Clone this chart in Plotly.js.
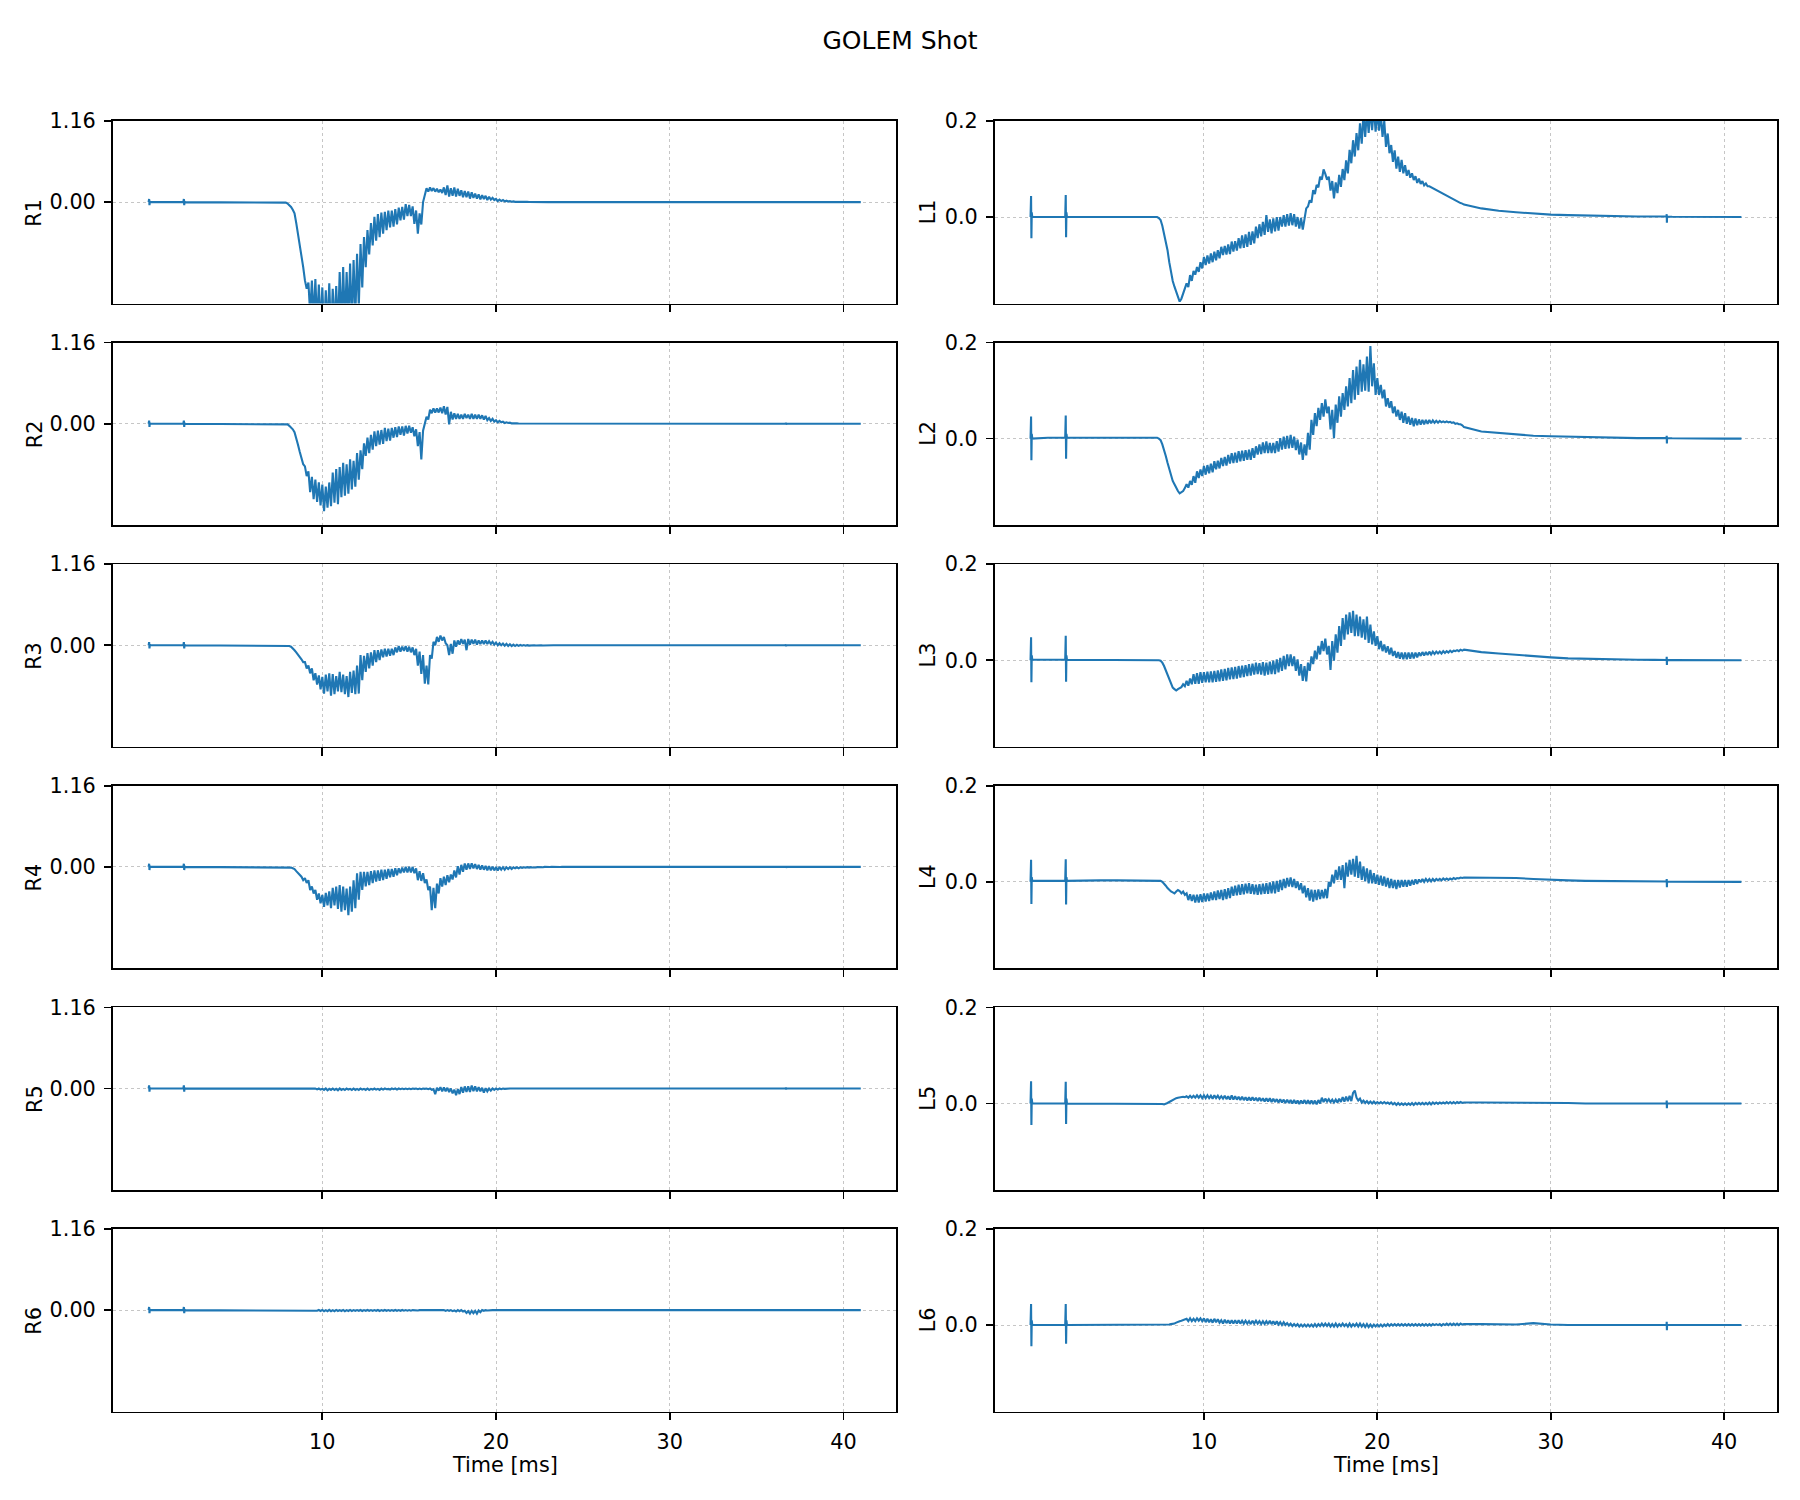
<!DOCTYPE html>
<html>
<head>
<meta charset="utf-8">
<script src="https://cdn.plot.ly/plotly-3.0.1.min.js"></script>
<style>html,body{margin:0;padding:0;background:#fff;}</style>
</head>
<body>
<div id="chart" style="width:1800px;height:1500px;"></div>
<script>
// ---------------- DATA ----------------
// time samples [ms]
const tPre = [0, 0.03, 0.05, 0.07, 0.1, 1, 2, 2.03, 2.05, 2.07, 2.1, 3, 4, 5, 6];
const tFine = [
7.0,7.1,7.2,7.3,7.4,7.5,7.6,7.7,7.8,7.9,
8.0,8.1,8.2,8.3,8.4,8.5,8.6,8.7,8.8,8.9,
9.0,9.1,9.2,9.3,9.4,9.5,9.6,9.7,9.8,9.9,
10.0,10.1,10.2,10.3,10.4,10.5,10.6,10.7,10.8,10.9,
11.0,11.1,11.2,11.3,11.4,11.5,11.6,11.7,11.8,11.9,
12.0,12.1,12.2,12.3,12.4,12.5,12.6,12.7,12.8,12.9,
13.0,13.1,13.2,13.3,13.4,13.5,13.6,13.7,13.8,13.9,
14.0,14.1,14.2,14.3,14.4,14.5,14.6,14.7,14.8,14.9,
15.0,15.1,15.2,15.3,15.4,15.5,15.6,15.7,15.8,15.9,
16.0,16.1,16.2,16.3,16.4,16.5,16.6,16.7,16.8,16.9,
17.0,17.1,17.2,17.3,17.4,17.5,17.6,17.7,17.8,17.9,
18.0,18.1,18.2,18.3,18.4,18.5,18.6,18.7,18.8,18.9,
19.0,19.1,19.2,19.3,19.4,19.5,19.6,19.7,19.8,19.9,
20.0,20.1,20.2,20.3,20.4,20.5,20.6,20.7,20.8,20.9,
21.0,21.1,21.2,21.3,21.4,21.5,21.6,21.7,21.8,21.9,
22.0,22.1,22.2,22.3,22.4,22.5,22.6,22.7,22.8,22.9,
23.0,23.1,23.2,23.3,23.4,23.5,23.6,23.7,23.8,23.9,
24.0,24.1,24.2,24.3,24.4,24.5,24.6,24.7,24.8,24.9];
const tTail = [25, 26, 27, 28, 29, 30, 31, 32, 33, 34, 35, 36, 36.68, 36.69, 36.7, 36.71, 37, 38, 39, 40, 41];

// subplot labels
const leftLabels = ['R1','R2','R3','R4','R5','R6'];
const rightLabels = ['L1','L2','L3','L4','L5','L6'];
const xTickVals = [10, 20, 30, 40];
const rTickVals = [0, 1.16];
const rTickText = ['0.00', '1.16'];
const lTickVals = [0, 0.2];
const lTickText = ['0.0', '0.2'];
const xLabel = 'Time [ms]';
const chartTitle = 'GOLEM Shot';

const R1 = [
0,0.045,-0.045,0.01,0,0,0,0.045,-0.045,0.01,0,0,0,0,0,
0,0,0,0,0,0,0,0,0,-0.008,
-0.02,-0.04,-0.07,-0.11,-0.16,-0.3,-0.45,-0.66,-0.8,-0.93,
-1.12,-1.24,-1.15,-1.6,-1.12,-1.7,-1.1,-1.75,-1.18,-1.8,
-1.22,-1.85,-1.26,-1.8,-1.16,-1.9,-1.24,-1.8,-1.2,-1.85,
-1.0,-1.8,-0.93,-1.75,-1.0,-1.7,-0.88,-1.75,-0.83,-1.65,
-0.74,-1.5,-0.6,-1.22,-0.5,-0.93,-0.4,-0.75,-0.3,-0.62,
-0.21,-0.55,-0.17,-0.5,-0.15,-0.45,-0.14,-0.4,-0.12,-0.36,
-0.12,-0.35,-0.1,-0.32,-0.08,-0.26,-0.07,-0.25,-0.03,-0.2,
-0.04,-0.2,-0.06,-0.31,-0.12,-0.45,-0.16,-0.32,0.0,0.12,
0.2,0.15,0.21,0.16,0.2,0.15,0.19,0.14,0.18,0.13,
0.21,0.1,0.24,0.08,0.2,0.09,0.21,0.08,0.19,0.09,
0.17,0.07,0.16,0.07,0.15,0.05,0.14,0.06,0.12,0.05,
0.11,0.04,0.1,0.045,0.09,0.03,0.076,0.035,0.06,0.03,
0.045,0.015,0.035,0.015,0.03,0.01,0.02,0.008,0.015,0.005,
0.01,0.004,0.008,0.003,0.005,0.002,0.004,0.001,0.003,0.001,
0,0,0,0,0,0,0,0,0,0,
0,0,0,0,0,0,0,0,0,0,
0,0,0,0,0,0,0,0,0,0,
0,0,0,0,0,0,0,0,0,0,0,0,0,0.015,-0.015,0,0,0,0,0,0];

const R2 = [
0,0.045,-0.045,0.01,0,0,0,0.045,-0.045,0.01,0,0,0,0,0,
0,0,0,0,0,0,0,0,0,-0.005,
-0.01,-0.03,-0.05,-0.08,-0.12,-0.2,-0.3,-0.4,-0.5,-0.58,
-0.61,-0.75,-0.68,-0.98,-0.76,-1.08,-0.8,-1.12,-0.84,-1.17,
-0.87,-1.25,-0.9,-1.2,-0.84,-1.18,-0.7,-1.13,-0.65,-1.15,
-0.62,-1.05,-0.56,-1.03,-0.58,-1.0,-0.51,-0.94,-0.53,-0.9,
-0.42,-0.8,-0.38,-0.65,-0.28,-0.46,-0.2,-0.42,-0.16,-0.37,
-0.11,-0.32,-0.1,-0.3,-0.09,-0.29,-0.06,-0.25,-0.07,-0.24,
-0.06,-0.2,-0.05,-0.19,-0.04,-0.16,-0.04,-0.17,-0.03,-0.14,
-0.03,-0.13,-0.05,-0.18,-0.08,-0.32,-0.12,-0.51,-0.1,0.0,
0.1,0.06,0.2,0.15,0.22,0.16,0.22,0.16,0.23,0.15,
0.25,0.13,0.24,-0.01,0.17,0.06,0.15,0.07,0.14,0.07,
0.13,0.07,0.14,0.08,0.13,0.07,0.14,0.07,0.13,0.07,
0.13,0.07,0.12,0.06,0.11,0.05,0.08,0.04,0.07,0.03,
0.05,0.02,0.04,0.02,0.03,0.01,0.02,0.01,0.015,0.005,
0.008,0.004,0.005,0.003,0.003,0.002,0.002,0.001,0.001,0,
0,0,0,0,0,0,0,0,0,0,
0,0,0,0,0,0,0,0,0,0,
0,0,0,0,0,0,0,0,0,0,
0,0,0,0,0,0,0,0,0,0,0,0,0,0.015,-0.015,0,0,0,0,0,0];

const R3 = [
0,0.045,-0.045,0.01,0,0,0,0.045,-0.045,0.01,0,0,0,0,0,
0,0,0,0,0,0,0,0,0,0,
-0.005,-0.01,-0.02,-0.04,-0.07,-0.1,-0.13,-0.16,-0.2,-0.24,
-0.24,-0.33,-0.29,-0.4,-0.33,-0.5,-0.4,-0.56,-0.43,-0.63,
-0.45,-0.69,-0.42,-0.66,-0.4,-0.72,-0.41,-0.7,-0.44,-0.66,
-0.38,-0.67,-0.42,-0.7,-0.44,-0.74,-0.38,-0.68,-0.36,-0.7,
-0.29,-0.69,-0.14,-0.5,-0.15,-0.38,-0.11,-0.33,-0.1,-0.29,
-0.07,-0.24,-0.07,-0.21,-0.06,-0.17,-0.05,-0.16,-0.05,-0.15,
-0.05,-0.14,-0.03,-0.1,-0.01,-0.09,-0.02,-0.08,-0.01,-0.09,
-0.02,-0.1,-0.03,-0.14,-0.05,-0.29,-0.09,-0.41,-0.14,-0.55,
-0.29,-0.56,-0.14,-0.19,0.05,0.0,0.12,0.05,0.14,0.07,
0.12,0.03,0.0,-0.14,0.02,-0.12,0.07,-0.02,0.07,0.01,
0.09,0.02,0.08,-0.07,0.09,0.01,0.08,0.02,0.08,0.01,
0.07,0.02,0.07,0.02,0.07,0.02,0.06,0.02,0.05,0.01,
0.04,0.0,0.03,0.0,0.025,-0.005,0.02,-0.01,0.015,-0.01,
0.01,-0.01,0.008,-0.008,0.005,-0.006,0.003,-0.005,0.002,-0.004,
0,-0.003,0,-0.003,0,-0.002,0,-0.002,0,-0.001,
0,0,0,0,0,0,0,0,0,0,
0,0,0,0,0,0,0,0,0,0,
0,0,0,0,0,0,0,0,0,0,0,0,0,0.015,-0.015,0,0,0,0,0,0];

const R4 = [
0,0.045,-0.045,0.01,0,0,0,0.045,-0.045,0.01,0,0,0,0,0,
0,0,0,0,0,0,0,0,0,0,
0,-0.005,-0.01,-0.02,-0.03,-0.06,-0.09,-0.12,-0.14,-0.19,
-0.16,-0.23,-0.19,-0.33,-0.28,-0.38,-0.33,-0.47,-0.38,-0.52,
-0.4,-0.57,-0.37,-0.55,-0.35,-0.59,-0.3,-0.55,-0.28,-0.6,
-0.26,-0.64,-0.28,-0.62,-0.31,-0.69,-0.28,-0.64,-0.19,-0.59,
-0.09,-0.47,-0.07,-0.33,-0.07,-0.28,-0.07,-0.26,-0.06,-0.23,
-0.05,-0.21,-0.05,-0.2,-0.04,-0.19,-0.04,-0.17,-0.03,-0.15,
-0.03,-0.14,-0.02,-0.12,-0.02,-0.09,-0.01,-0.08,0.0,-0.08,
0.0,-0.08,0.0,-0.09,-0.02,-0.19,-0.06,-0.2,-0.09,-0.23,
-0.18,-0.33,-0.28,-0.62,-0.3,-0.59,-0.24,-0.38,-0.16,-0.28,
-0.14,-0.26,-0.12,-0.22,-0.11,-0.18,-0.05,-0.15,0.01,-0.11,
0.03,-0.07,0.05,-0.04,0.05,-0.03,0.05,-0.02,0.04,-0.03,
0.03,-0.04,0.02,-0.04,0.015,-0.05,0.01,-0.05,0.005,-0.05,
0.0,-0.05,0.0,-0.04,-0.005,-0.04,-0.005,-0.03,-0.005,-0.03,
-0.005,-0.02,-0.005,-0.02,-0.005,-0.015,-0.005,-0.01,-0.003,-0.01,
-0.003,-0.008,-0.002,-0.006,-0.002,-0.005,-0.001,-0.004,0,-0.003,
0,-0.002,0,-0.002,0,-0.001,0,-0.001,0,0,
0,0,0,0,0,0,0,0,0,0,
0,0,0,0,0,0,0,0,0,0,0,0,0,0.015,-0.015,0,0,0,0,0,0];

const R5 = [
0,0.045,-0.045,0.01,0,0,0,0.045,-0.045,0.01,0,0,0,0,0,
0,0,0,0,0,0,0,0,0,0,
0,0,0,0,0,0,0,0,0,0,
0,-0.005,0,-0.005,0,-0.01,-0.002,-0.012,0,-0.015,
-0.005,-0.02,0,-0.025,-0.005,-0.02,0,-0.02,-0.005,-0.025,
0,-0.02,-0.005,-0.02,0,-0.015,-0.005,-0.02,0,-0.02,
-0.005,-0.02,0,-0.015,-0.005,-0.02,0,-0.02,-0.005,-0.015,
0,-0.015,-0.005,-0.02,0,-0.015,0,-0.01,-0.005,-0.015,
0,-0.01,0,-0.015,0,-0.01,0,-0.01,0,-0.01,
0,-0.01,0,-0.005,0,-0.01,0,-0.01,0,-0.005,
0,-0.01,0,-0.02,-0.01,-0.08,0.01,-0.03,0.02,-0.04,
0.015,-0.04,0.01,-0.05,0.0,-0.07,-0.015,-0.095,-0.01,-0.08,
0.02,-0.06,0.03,-0.05,0.033,-0.05,0.043,-0.038,0.03,-0.04,
0.02,-0.04,0.01,-0.06,0.005,-0.04,0.0,-0.03,0.0,-0.02,
0.0,-0.015,0.0,-0.01,0.0,-0.005,0,-0.005,0,0,
0,0,0,0,0,0,0,0,0,0,
0,0,0,0,0,0,0,0,0,0,
0,0,0,0,0,0,0,0,0,0,
0,0,0,0,0,0,0,0,0,0,
0,0,0,0,0,0,0,0,0,0,0,0,0,0.015,-0.015,0,0,0,0,0,0];

const R6 = [
0,0.045,-0.045,0.01,0,0,0,0.045,-0.045,0.01,0,0,0,0,0,
0,0,0,0,0,0,0,0,0,0,
0,0,0,0,0,0,0,0,0,0,
0,0,0,0,0,-0.005,0,-0.01,0.002,-0.012,
0.003,-0.015,0,-0.015,0.003,-0.015,0,-0.015,0.003,-0.012,
0,-0.012,0.003,-0.015,0,-0.012,0.003,-0.012,0,-0.01,
0,-0.01,0.002,-0.012,0,-0.01,0.002,-0.01,0,-0.01,
0,-0.01,0.002,-0.012,0,-0.01,0.002,-0.01,0,-0.01,
0,-0.01,0.002,-0.01,0,-0.01,0.002,-0.008,0,-0.008,
0,-0.008,0,-0.005,0,-0.005,0,0,0,0,
0,0,0,0,0,-0.005,0,-0.01,0,-0.01,
0,-0.012,0,-0.01,0,-0.015,-0.005,-0.02,0,-0.015,
0,-0.02,-0.01,-0.04,-0.015,-0.05,-0.01,-0.045,-0.01,-0.05,
-0.005,-0.03,0,-0.01,0,-0.005,0,0,0,0,
0,0,0,0,0,0,0,0,0,0,
0,0,0,0,0,0,0,0,0,0,
0,0,0,0,0,0,0,0,0,0,
0,0,0,0,0,0,0,0,0,0,
0,0,0,0,0,0,0,0,0,0,
0,0,0,0,0,0,0,0,0,0,0,0,0,0.015,-0.015,0,0,0,0,0,0];

const L1 = [
0,0.044,-0.044,0.01,0,0,0,0.046,-0.042,0.01,0,0,0.001,0.001,0.001,
0.001,0.001,0.001,0,-0.002,-0.006,-0.018,-0.034,-0.05,-0.069,
-0.094,-0.117,-0.133,-0.145,-0.155,-0.163,-0.176,-0.17,-0.159,-0.152,
-0.138,-0.146,-0.121,-0.133,-0.112,-0.12,-0.104,-0.114,-0.094,-0.107,
-0.083,-0.1,-0.08,-0.097,-0.076,-0.094,-0.072,-0.09,-0.069,-0.086,
-0.062,-0.079,-0.06,-0.078,-0.057,-0.077,-0.051,-0.072,-0.05,-0.07,
-0.044,-0.065,-0.038,-0.064,-0.036,-0.062,-0.031,-0.058,-0.03,-0.055,
-0.02,-0.044,-0.015,-0.04,-0.01,-0.037,0.004,-0.031,-0.005,-0.034,
-0.003,-0.03,0.0,-0.028,0.0,-0.02,0.004,-0.02,0.006,-0.018,
0.008,-0.017,0.006,-0.02,0.0,-0.024,-0.002,-0.026,0.0,0.018,
0.022,0.035,0.03,0.056,0.048,0.067,0.062,0.084,0.078,0.099,
0.09,0.078,0.084,0.055,0.075,0.039,0.072,0.05,0.088,0.063,
0.1,0.077,0.118,0.091,0.14,0.112,0.16,0.126,0.175,0.139,
0.195,0.153,0.215,0.167,0.22,0.175,0.225,0.181,0.23,0.178,
0.22,0.18,0.215,0.167,0.2,0.146,0.174,0.133,0.15,0.115,
0.139,0.101,0.126,0.094,0.119,0.091,0.108,0.086,0.098,0.082,
0.091,0.077,0.085,0.071,0.08,0.069,0.075,0.066,0.07,0.064,
0.064,0.062,0.06,0.058,0.056,0.054,0.052,0.05,0.048,0.046,
0.044,0.042,0.04,0.038,0.036,0.034,0.032,0.031,0.029,0.028,
0.026,0.018,0.013,0.01,0.007,0.005,0.004,0.003,0.002,0.0015,0.001,0.001,0.001,0.006,-0.012,0.001,0.0005,0,0,0,0];

const L2 = [
0,0.046,-0.045,0.01,0,0.002,0.002,0.048,-0.042,0.01,0.002,0.002,0.003,0.003,0.003,
0.003,0.003,0.003,0.002,0.0,-0.003,-0.012,-0.023,-0.036,-0.05,
-0.064,-0.078,-0.088,-0.095,-0.103,-0.109,-0.114,-0.112,-0.109,-0.103,
-0.095,-0.102,-0.088,-0.096,-0.078,-0.092,-0.068,-0.082,-0.064,-0.078,
-0.057,-0.075,-0.055,-0.072,-0.052,-0.07,-0.047,-0.064,-0.046,-0.062,
-0.04,-0.057,-0.038,-0.056,-0.034,-0.052,-0.03,-0.051,-0.029,-0.05,
-0.026,-0.047,-0.025,-0.046,-0.024,-0.044,-0.023,-0.044,-0.02,-0.04,
-0.016,-0.033,-0.012,-0.032,-0.008,-0.03,-0.006,-0.03,-0.009,-0.03,
-0.009,-0.03,-0.005,-0.027,0.001,-0.023,0.004,-0.021,0.006,-0.02,
0.008,-0.019,0.004,-0.024,-0.002,-0.033,-0.008,-0.044,-0.012,-0.035,
0.012,-0.023,0.039,0.008,0.053,0.026,0.064,0.039,0.074,0.046,
0.082,0.053,0.067,0.019,0.06,0.001,0.071,0.033,0.088,0.046,
0.095,0.06,0.109,0.067,0.126,0.074,0.143,0.081,0.15,0.091,
0.164,0.098,0.155,0.1,0.171,0.098,0.193,0.109,0.157,0.091,
0.126,0.091,0.112,0.084,0.102,0.067,0.084,0.064,0.078,0.053,
0.067,0.046,0.06,0.039,0.056,0.033,0.053,0.031,0.046,0.029,
0.043,0.026,0.042,0.028,0.04,0.029,0.039,0.03,0.039,0.031,
0.039,0.032,0.038,0.033,0.037,0.033,0.037,0.034,0.036,0.034,
0.036,0.034,0.035,0.033,0.034,0.031,0.032,0.03,0.03,0.028,
0.024,0.015,0.012,0.008,0.006,0.005,0.004,0.003,0.0025,0.002,0.001,0.001,0.001,0.006,-0.01,0.001,0.0007,0,0,0,0];

const L3 = [
0,0.048,-0.046,0.01,0.001,0.001,0.001,0.051,-0.045,0.01,0.001,0.001,0.001,0.001,0.001,
0.001,0.001,0.001,0.001,0.0,-0.001,-0.005,-0.012,-0.021,-0.032,
-0.042,-0.052,-0.057,-0.06,-0.063,-0.06,-0.057,-0.056,-0.05,-0.054,
-0.043,-0.053,-0.038,-0.05,-0.029,-0.049,-0.027,-0.049,-0.025,-0.047,
-0.025,-0.046,-0.024,-0.046,-0.023,-0.046,-0.022,-0.045,-0.021,-0.044,
-0.019,-0.043,-0.018,-0.042,-0.016,-0.04,-0.015,-0.039,-0.014,-0.038,
-0.012,-0.036,-0.011,-0.035,-0.01,-0.033,-0.008,-0.032,-0.007,-0.03,
-0.005,-0.029,-0.006,-0.03,-0.004,-0.032,-0.005,-0.03,-0.003,-0.029,
-0.001,-0.029,0.002,-0.025,0.005,-0.022,0.009,-0.019,0.012,-0.012,
0.012,-0.012,0.008,-0.022,0.002,-0.032,-0.008,-0.043,-0.012,-0.044,
-0.005,-0.022,0.008,-0.008,0.02,0.002,0.03,0.012,0.04,0.019,
0.045,0.012,0.03,-0.02,0.04,-0.001,0.054,0.016,0.071,0.03,
0.088,0.043,0.095,0.054,0.1,0.057,0.103,0.05,0.095,0.05,
0.091,0.047,0.085,0.043,0.091,0.036,0.074,0.033,0.06,0.03,
0.05,0.023,0.04,0.019,0.033,0.016,0.029,0.012,0.026,0.009,
0.019,0.005,0.017,0.003,0.016,0.002,0.016,0.002,0.016,0.003,
0.016,0.004,0.016,0.006,0.016,0.009,0.017,0.01,0.017,0.011,
0.018,0.012,0.018,0.013,0.018,0.014,0.018,0.014,0.019,0.015,
0.019,0.016,0.02,0.017,0.02,0.019,0.021,0.019,0.022,0.02,
0.022,0.017,0.014,0.011,0.008,0.006,0.004,0.003,0.002,0.0015,0.001,0.0007,0.0006,0.007,-0.01,0.0005,0.0003,0,0,0,0];

const L4 = [
0,0.046,-0.046,0.01,0.002,0.002,0.002,0.047,-0.047,0.01,0.002,0.003,0.003,0.003,0.003,
0.003,0.003,0.003,0.003,0.003,0.002,0.0,-0.003,-0.008,-0.013,
-0.017,-0.02,-0.022,-0.024,-0.02,-0.017,-0.019,-0.024,-0.02,-0.027,
-0.024,-0.038,-0.026,-0.04,-0.027,-0.043,-0.027,-0.043,-0.026,-0.042,
-0.024,-0.041,-0.024,-0.04,-0.022,-0.038,-0.02,-0.038,-0.018,-0.036,
-0.017,-0.038,-0.015,-0.036,-0.013,-0.034,-0.01,-0.029,-0.008,-0.028,
-0.006,-0.027,-0.005,-0.026,-0.004,-0.024,-0.003,-0.025,-0.005,-0.026,
-0.006,-0.027,-0.005,-0.026,-0.004,-0.025,-0.003,-0.025,-0.001,-0.024,
0.001,-0.024,0.002,-0.021,0.004,-0.017,0.006,-0.013,0.008,-0.01,
0.009,-0.011,0.006,-0.013,0.001,-0.017,-0.003,-0.024,-0.008,-0.032,
-0.013,-0.039,-0.016,-0.041,-0.017,-0.038,-0.016,-0.036,-0.017,-0.034,
-0.015,-0.034,0.0,-0.01,0.015,-0.003,0.025,0.004,0.032,0.004,
0.035,-0.013,0.04,0.011,0.046,0.015,0.048,0.011,0.054,0.008,
0.042,0.004,0.032,0.001,0.028,-0.003,0.025,-0.003,0.018,-0.004,
0.015,-0.006,0.013,-0.008,0.011,-0.01,0.008,-0.013,0.006,-0.013,
0.004,-0.015,0.004,-0.012,0.004,-0.01,0.004,-0.01,0.004,-0.008,
0.004,-0.006,0.005,-0.004,0.005,-0.001,0.006,0.0,0.006,0.001,
0.006,0.001,0.006,0.002,0.006,0.003,0.006,0.003,0.007,0.004,
0.007,0.004,0.007,0.005,0.008,0.006,0.008,0.007,0.009,0.008,
0.009,0.009,0.008,0.008,0.006,0.004,0.003,0.002,0.0018,0.0015,0.001,0.0007,0.0006,0.006,-0.011,0.0005,0.0003,0,0,0,0];

const L5 = [
0,0.046,-0.045,0.01,0,0,0,0.045,-0.043,0.01,0,0,0,0,0,
0,0,0,0,0,0,-0.001,-0.002,-0.001,0.001,
0.003,0.005,0.008,0.01,0.011,0.012,0.013,0.013,0.014,0.013,
0.015,0.012,0.016,0.012,0.016,0.012,0.017,0.012,0.017,0.011,
0.017,0.011,0.017,0.011,0.016,0.01,0.017,0.011,0.016,0.01,
0.015,0.01,0.016,0.009,0.015,0.008,0.017,0.008,0.015,0.008,
0.014,0.007,0.014,0.007,0.013,0.006,0.013,0.006,0.013,0.006,
0.012,0.005,0.012,0.005,0.011,0.004,0.011,0.004,0.011,0.003,
0.01,0.003,0.009,0.002,0.009,0.002,0.008,0.001,0.008,0.001,
0.007,0.0,0.007,0.0,0.006,-0.001,0.006,0.0,0.007,-0.001,
0.007,-0.001,0.006,-0.001,0.006,-0.002,0.007,0.0,0.012,0.003,
0.01,0.004,0.009,0.003,0.008,0.002,0.008,0.002,0.01,0.003,
0.013,0.004,0.014,0.005,0.016,0.005,0.022,0.027,0.012,0.006,
0.01,0.002,0.006,0.001,0.005,0.0,0.004,0.0,0.004,0.0,
0.003,0.0,0.003,0.0,0.003,0.0,0.002,-0.001,0.002,-0.002,
0.001,-0.003,0.001,-0.003,0.0,-0.003,0.0,-0.003,0.0,-0.003,
0.001,-0.003,0.001,-0.002,0.001,-0.002,0.001,-0.002,0.001,-0.002,
0.002,-0.002,0.002,-0.001,0.002,-0.001,0.002,0.0,0.002,0.0,
0.003,0.0,0.003,0.0,0.003,0.0,0.003,0.001,0.003,0.001,
0.002,0.002,0.002,0.002,0.002,0.002,0.001,0,0,0,0,0,0,0.006,-0.01,0,0,0,0,0,0];

const L6 = [
0,0.044,-0.044,0.01,0,0,0,0.044,-0.039,0.01,0,0,0,0,0,
0,0,0,0,0,0,0,0,0,0,
0.001,0.002,0.002,0.003,0.005,0.007,0.008,0.009,0.01,0.011,
0.013,0.008,0.014,0.008,0.013,0.008,0.014,0.009,0.014,0.008,
0.014,0.006,0.013,0.006,0.012,0.005,0.013,0.006,0.012,0.005,
0.01,0.003,0.011,0.004,0.01,0.003,0.01,0.003,0.01,0.003,
0.01,0.003,0.009,0.003,0.009,0.003,0.008,0.002,0.009,0.003,
0.009,0.003,0.008,0.002,0.008,0.002,0.008,0.002,0.009,0.002,
0.008,0.001,0.008,0.001,0.006,0.0,0.006,0.0,0.004,-0.001,
0.003,-0.002,0.002,-0.002,0.002,-0.003,0.001,-0.003,0.001,-0.003,
0.001,-0.003,0.001,-0.003,0.002,-0.003,0.002,-0.002,0.003,-0.002,
0.003,-0.002,0.003,-0.003,0.002,-0.003,0.003,-0.003,0.002,-0.002,
0.003,-0.002,0.002,-0.003,0.003,-0.003,0.002,-0.002,0.003,-0.003,
0.003,-0.003,0.002,-0.004,0.002,-0.004,0.001,-0.004,0.001,-0.003,
0.001,-0.003,0.001,-0.003,0.001,-0.002,0.002,-0.002,0.002,-0.001,
0.002,-0.001,0.002,-0.001,0.002,-0.001,0.002,-0.001,0.002,-0.001,
0.002,-0.001,0.002,-0.001,0.002,-0.001,0.002,-0.001,0.002,-0.001,
0.002,-0.001,0.002,0.0,0.002,0.0,0.002,-0.001,0.002,0.0,
0.003,0.0,0.003,0.0,0.003,0.0,0.003,0.0,0.003,0.001,
0.002,0.002,0.001,0.001,0.004,0.001,0,0,0,0,0,0,0,0.007,-0.011,0,0,0,0,0,0];

// ---------------- BUILD ----------------
const time = tPre.concat(tFine, tTail);
const leftSeries = [R1, R2, R3, R4, R5, R6];
const rightSeries = [L1, L2, L3, L4, L5, L6];
[...leftSeries, ...rightSeries].forEach((s, i) => {
  if (s.length !== time.length) throw new Error('series ' + i + ' length ' + s.length + ' vs ' + time.length);
});

const W = 1800, H = 1500;
const FONT = 'DejaVu Sans, Liberation Sans, sans-serif';
const colDom = [[113 / W, 896.4 / W], [995 / W, 1777 / W]];
const rowTop0 = 121, rowStep = 221.6, rowH = 182.5;
function rowDom(k) {
  const top = rowTop0 + rowStep * k;
  return [1 - (top + rowH) / H, 1 - top / H];
}

const traces = [];
const layout = {
  width: W, height: H,
  margin: {l: 0, r: 0, t: 0, b: 0},
  paper_bgcolor: '#ffffff', plot_bgcolor: '#ffffff',
  showlegend: false,
  font: {family: FONT, size: 20.8, color: '#000000'},
  title: {text: chartTitle, x: 0.5, xanchor: 'center', y: 1 - 40 / H, yanchor: 'middle',
          font: {family: FONT, size: 25, color: '#000000'}},
  annotations: []
};

function axisCommon() {
  return {
    showline: true, mirror: true, linecolor: '#000000', linewidth: 1.67,
    ticks: 'outside', ticklen: 7.3, tickwidth: 1.67, tickcolor: '#000000',
    showgrid: true, gridcolor: '#c0c0c0', gridwidth: 0.9, griddash: 'dot',
    zeroline: false, ticklabelstandoff: 4,
    tickfont: {family: FONT, size: 20.8, color: '#000000'},
    fixedrange: true
  };
}

for (let c = 0; c < 2; c++) {
  const seriesList = c === 0 ? leftSeries : rightSeries;
  const labels = c === 0 ? leftLabels : rightLabels;
  for (let r = 0; r < 6; r++) {
    const n = c * 6 + r + 1;
    const xa = n === 1 ? 'x' : 'x' + n;
    const ya = n === 1 ? 'y' : 'y' + n;
    traces.push({
      type: 'scatter', mode: 'lines', x: time, y: seriesList[r],
      xaxis: xa, yaxis: ya,
      line: {color: '#1f77b4', width: 2.1},
      hoverinfo: 'skip'
    });
    const xk = n === 1 ? 'xaxis' : 'xaxis' + n;
    const yk = n === 1 ? 'yaxis' : 'yaxis' + n;
    layout[xk] = Object.assign(axisCommon(), {
      domain: colDom[c], anchor: ya,
      range: [-2.05, 43.05],
      tickmode: 'array', tickvals: xTickVals,
      showticklabels: r === 5
    });
    layout[yk] = Object.assign(axisCommon(), {
      domain: rowDom(r), anchor: xa,
      range: c === 0 ? [-1.45, 1.16] : [-0.18, 0.2],
      tickmode: 'array',
      tickvals: c === 0 ? rTickVals : lTickVals,
      ticktext: c === 0 ? rTickText : lTickText
    });
    const d = rowDom(r);
    layout.annotations.push({
      text: labels[r], xref: 'paper', yref: 'paper',
      x: (c === 0 ? 34.4 : 928) / W, y: (d[0] + d[1]) / 2,
      xanchor: 'center', yanchor: 'middle', textangle: -90, showarrow: false,
      font: {family: FONT, size: 20.8, color: '#000000'}
    });
  }
  layout.annotations.push({
    text: xLabel, xref: 'paper', yref: 'paper',
    x: (colDom[c][0] + colDom[c][1]) / 2, y: 1 - 1465 / H,
    xanchor: 'center', yanchor: 'middle', showarrow: false,
    font: {family: FONT, size: 20.8, color: '#000000'}
  });
}

Plotly.newPlot('chart', traces, layout, {staticPlot: true, displayModeBar: false});
</script>
</body>
</html>
